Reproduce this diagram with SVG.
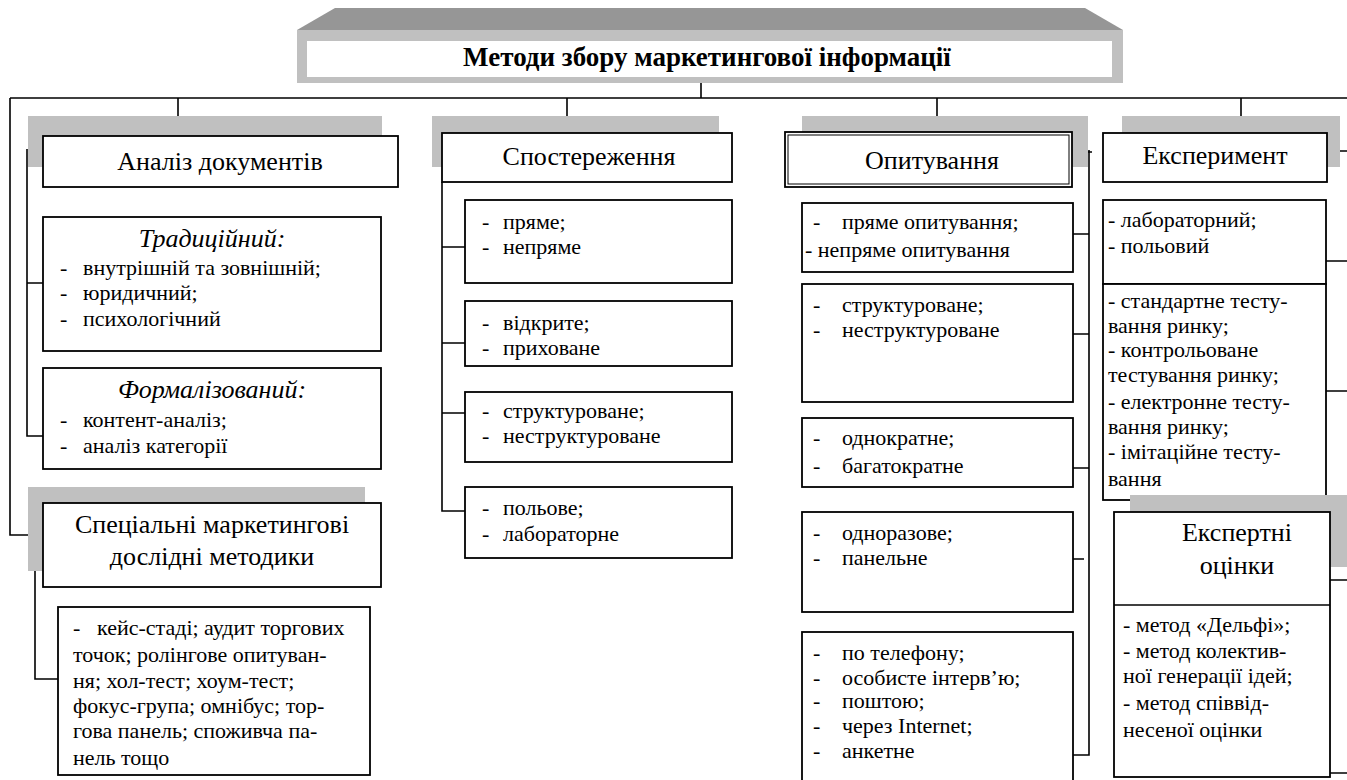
<svg xmlns="http://www.w3.org/2000/svg" width="1347" height="780" viewBox="0 0 1347 780" font-family="Liberation Serif, DejaVu Serif, serif">
<style>
.bx{fill:#fff;stroke:#000;stroke-width:1.8}
.sh{fill:#c0c0c0}
.ln{fill:none;stroke:#000;stroke-width:1.6}
text{font-family:'Liberation Serif','DejaVu Serif',serif;fill:#000}
.h{font-size:26px;text-anchor:middle}
.it{font-size:26px;font-style:italic;text-anchor:middle}
.li{font-size:22px}
.t{font-size:27px;font-weight:bold;text-anchor:middle}
</style>
<rect width="1347" height="780" fill="#fff"/>
<g id="title">
<polygon points="335,8 1085,8 1123,30 297,30" fill="#969696"/>
<rect x="297" y="30" width="826" height="53" fill="#c0c0c0"/>
<rect x="307" y="41" width="805" height="36" fill="#fff"/>
<text class="t" x="707" y="66">Методи збору маркетингової інформації</text>
</g>
<g id="connectors" class="ln">
<path d="M701,83V98M10,98H1347M178,98V116M567,98V116M937,98V116M1241,98V116"/>
<path d="M10,98V535H35V679H58"/>
<path d="M27,149V436H43M27,283H43"/>
<path d="M442,182V511H465M442,247H465M442,343H465M442,413H465"/>
<path d="M1067,152H1092M1089,150V755H1073M1073,234H1089M1073,334H1089M1073,468H1089M1066,559H1084"/>
<path d="M1327,151H1347M1326,261H1347M1326,391H1347M1330,580H1347M1330,773H1347"/>
</g>
<g id="analiz">
<rect class="sh" x="28" y="116" width="354" height="51"/>
<rect class="bx" x="43" y="136" width="355" height="51"/>
<text class="h" x="220" y="170">Аналіз документів</text>
</g>
<g id="tradytsiinyi">
<rect class="bx" x="43" y="217" width="338" height="134"/>
<text class="it" x="212" y="247">Традиційний:</text>
<text class="li"><tspan x="60" y="275">-</tspan><tspan x="83" y="275">внутрішній та зовнішній;</tspan><tspan x="60" y="300">-</tspan><tspan x="83" y="300">юридичний;</tspan><tspan x="60" y="326">-</tspan><tspan x="83" y="326">психологічний</tspan></text>
</g>
<g id="formalizovanyi">
<rect class="bx" x="43" y="368" width="338" height="101"/>
<text class="it" x="212" y="398">Формалізований:</text>
<text class="li"><tspan x="60" y="427">-</tspan><tspan x="83" y="427">контент-аналіз;</tspan><tspan x="60" y="453">-</tspan><tspan x="83" y="453">аналіз категорії</tspan></text>
</g>
<g id="spetsialni">
<rect class="sh" x="28" y="487" width="337" height="84"/>
<rect class="bx" x="43" y="503" width="338" height="84"/>
<text class="h"><tspan x="212" y="533">Спеціальні маркетингові</tspan><tspan x="212" y="565">дослідні методики</tspan></text>
</g>
<g id="keis">
<rect class="bx" x="58" y="607" width="312" height="168"/>
<text class="li"><tspan x="73" y="635">-</tspan><tspan x="97" y="635">кейс-стаді; аудит торгових</tspan><tspan x="73" y="662">точок; ролінгове опитуван-</tspan><tspan x="73" y="688">ня; хол-тест; хоум-тест;</tspan><tspan x="73" y="713">фокус-група; омнібус; тор-</tspan><tspan x="73" y="738">гова панель; споживча па-</tspan><tspan x="73" y="765">нель тощо</tspan></text>
</g>
<g id="sposterezhennia">
<rect class="sh" x="432" y="116" width="287" height="51"/>
<rect class="bx" x="442" y="133" width="290" height="49"/>
<text class="h" x="589" y="165">Спостереження</text>
</g>
<g id="s1"><rect class="bx" x="465" y="200" width="267" height="83"/>
<text class="li"><tspan x="482" y="229">-</tspan><tspan x="503" y="229">пряме;</tspan><tspan x="482" y="254">-</tspan><tspan x="503" y="254">непряме</tspan></text></g>
<g id="s2"><rect class="bx" x="465" y="301" width="267" height="65"/>
<text class="li"><tspan x="482" y="330">-</tspan><tspan x="503" y="330">відкрите;</tspan><tspan x="482" y="355">-</tspan><tspan x="503" y="355">приховане</tspan></text></g>
<g id="s3"><rect class="bx" x="465" y="392" width="267" height="70"/>
<text class="li"><tspan x="482" y="418">-</tspan><tspan x="503" y="418">структуроване;</tspan><tspan x="482" y="443">-</tspan><tspan x="503" y="443">неструктуроване</tspan></text></g>
<g id="s4"><rect class="bx" x="465" y="487" width="267" height="71"/>
<text class="li"><tspan x="482" y="515">-</tspan><tspan x="503" y="515">польове;</tspan><tspan x="482" y="541">-</tspan><tspan x="503" y="541">лабораторне</tspan></text></g>
<g id="opytuvannia">
<rect class="sh" x="802" y="116" width="286" height="51"/>
<rect class="bx" x="785" y="132" width="287" height="55"/>
<rect x="788" y="135" width="281" height="49" fill="none" stroke="#000" stroke-width="1"/>
<text class="h" x="932" y="169">Опитування</text>
</g>
<g id="o1"><rect class="bx" x="802" y="203" width="271" height="69"/>
<text class="li"><tspan x="813" y="229">-</tspan><tspan x="842" y="229">пряме опитування;</tspan><tspan x="805" y="257">- непряме опитування</tspan></text></g>
<g id="o2"><rect class="bx" x="802" y="284" width="271" height="118"/>
<text class="li"><tspan x="813" y="312">-</tspan><tspan x="842" y="312">структуроване;</tspan><tspan x="813" y="337">-</tspan><tspan x="842" y="337">неструктуроване</tspan></text></g>
<g id="o3"><rect class="bx" x="802" y="418" width="271" height="69"/>
<text class="li"><tspan x="813" y="445">-</tspan><tspan x="842" y="445">однократне;</tspan><tspan x="813" y="473">-</tspan><tspan x="842" y="473">багатократне</tspan></text></g>
<g id="o4"><rect class="bx" x="802" y="512" width="271" height="100"/>
<text class="li"><tspan x="813" y="540">-</tspan><tspan x="842" y="540">одноразове;</tspan><tspan x="813" y="565">-</tspan><tspan x="842" y="565">панельне</tspan></text></g>
<g id="o5"><rect class="bx" x="802" y="632" width="271" height="160"/>
<text class="li"><tspan x="813" y="660">-</tspan><tspan x="842" y="660">по телефону;</tspan><tspan x="813" y="685">-</tspan><tspan x="842" y="685">особисте інтерв’ю;</tspan><tspan x="813" y="708">-</tspan><tspan x="842" y="708">поштою;</tspan><tspan x="813" y="733">-</tspan><tspan x="842" y="733">через Internet;</tspan><tspan x="813" y="758">-</tspan><tspan x="842" y="758">анкетне</tspan></text></g>
<g id="eksperyment">
<rect class="sh" x="1122" y="116" width="218" height="51"/>
<rect class="bx" x="1103" y="133" width="224" height="49" stroke-width="2.2"/>
<text class="h" x="1215" y="164">Експеримент</text>
</g>
<g id="e1"><rect class="bx" x="1103" y="200" width="223" height="84" stroke-width="2"/>
<text class="li"><tspan x="1108" y="227">- лабораторний;</tspan><tspan x="1108" y="253">- польовий</tspan></text></g>
<g id="e2"><rect class="bx" x="1103" y="284" width="223" height="216" stroke-width="2"/>
<text class="li"><tspan x="1108" y="308">- стандартне тесту-</tspan><tspan x="1108" y="333">вання ринку;</tspan><tspan x="1108" y="357">- контрольоване</tspan><tspan x="1108" y="382">тестування ринку;</tspan><tspan x="1108" y="409">- електронне тесту-</tspan><tspan x="1108" y="434">вання ринку;</tspan><tspan x="1108" y="459">- імітаційне тесту-</tspan><tspan x="1108" y="486">вання</tspan></text></g>
<g id="ekspertni">
<rect class="sh" x="1130" y="495" width="217" height="72"/>
<rect class="bx" x="1114" y="512" width="216" height="265" stroke-width="2"/>
<path d="M1114,605H1330" class="ln" stroke-width="2"/>
<text class="h" font-size="25"><tspan x="1237" y="541">Експертні</tspan><tspan x="1237" y="574">оцінки</tspan></text>
<text class="li"><tspan x="1123" y="632">- метод «Дельфі»;</tspan><tspan x="1123" y="658">- метод колектив-</tspan><tspan x="1123" y="683">ної генерації ідей;</tspan><tspan x="1123" y="710">- метод співвід-</tspan><tspan x="1123" y="737">несеної оцінки</tspan></text>
</g>
</svg>
